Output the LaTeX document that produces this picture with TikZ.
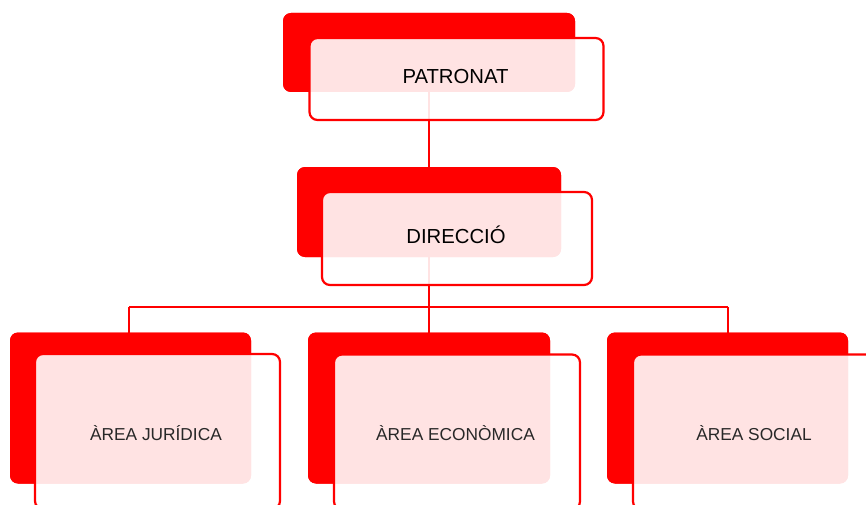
\documentclass[tikz,border=0pt]{standalone}
\usepackage{fontspec}
\setmainfont{Liberation Sans}
\definecolor{orgred}{RGB}{255,0,0}
\definecolor{txtgray}{RGB}{40,40,40}
\begin{document}
\begin{tikzpicture}[x=1pt,y=-1pt,
  redbox/.style={draw=none,fill=orgred,rounded corners=8pt,inner sep=0pt,outer sep=0pt},
  framebox/.style={draw=orgred,line width=2.2pt,fill=white,fill opacity=0.89,draw opacity=1,rounded corners=8pt,inner sep=0pt,outer sep=0pt},
  link/.style={draw=orgred,line width=2.4pt},
  toplabel/.style={font=\fontsize{20.3}{24}\selectfont,text=black,inner sep=0pt},
  arealabel/.style={font=\fontsize{17.3}{21}\selectfont,text=txtgray,inner sep=0pt}]
\useasboundingbox (0,0) rectangle (866,505);
% red backs
\node[redbox,minimum width=292pt,minimum height=79pt] (patR) at (429,52.5) {};
\node[redbox,minimum width=264pt,minimum height=90pt] (dirR) at (429,212) {};
\node[redbox,minimum width=241pt,minimum height=151pt] (jurR) at (130.5,408) {};
\node[redbox,minimum width=242pt,minimum height=151pt] (ecoR) at (429,408) {};
\node[redbox,minimum width=241pt,minimum height=151pt] (socR) at (727.5,408) {};
% connectors
\coordinate (bus) at (429,307);
\coordinate (busL) at (129,307);
\coordinate (busR) at (728,307);
\draw[link] (patR.center) -- (dirR.center);
\draw[link] (dirR.center) -- (bus);
\draw[link] (busL) -- (busR);
\draw[link] (busL) -- (busL |- jurR.north);
\draw[link] (bus) -- (ecoR.north);
\draw[link] (busR) -- (busR |- socR.north);
% redraw red backs over connectors
\node[redbox,minimum width=292pt,minimum height=79pt] at (patR) {};
\node[redbox,minimum width=264pt,minimum height=90pt] at (dirR) {};
\node[redbox,minimum width=241pt,minimum height=151pt] at (jurR) {};
\node[redbox,minimum width=242pt,minimum height=151pt] at (ecoR) {};
\node[redbox,minimum width=241pt,minimum height=151pt] at (socR) {};
% frames
\node[framebox,minimum width=294pt,minimum height=82pt] (patF) at (456.5,79) {};
\node[framebox,minimum width=270pt,minimum height=93pt] (dirF) at (457,238.5) {};
\node[framebox,minimum width=245pt,minimum height=155pt] (jurF) at (157.5,431.5) {};
\node[framebox,minimum width=246pt,minimum height=155pt] (ecoF) at (457,432) {};
\node[framebox,minimum width=246pt,minimum height=155pt] (socF) at (756,432) {};
% labels
\node[toplabel] (patT) at (455.5,77) {PATRONAT};
\node[toplabel] (dirT) at (456,235) {DIRECCIÓ};
\node[arealabel] (jurT) at (156,433) {ÀREA JURÍDICA};
\node[arealabel] (ecoT) at (455.5,433) {ÀREA ECONÒMICA};
\node[arealabel] (socT) at (754,433) {ÀREA SOCIAL};
\end{tikzpicture}
\end{document}
